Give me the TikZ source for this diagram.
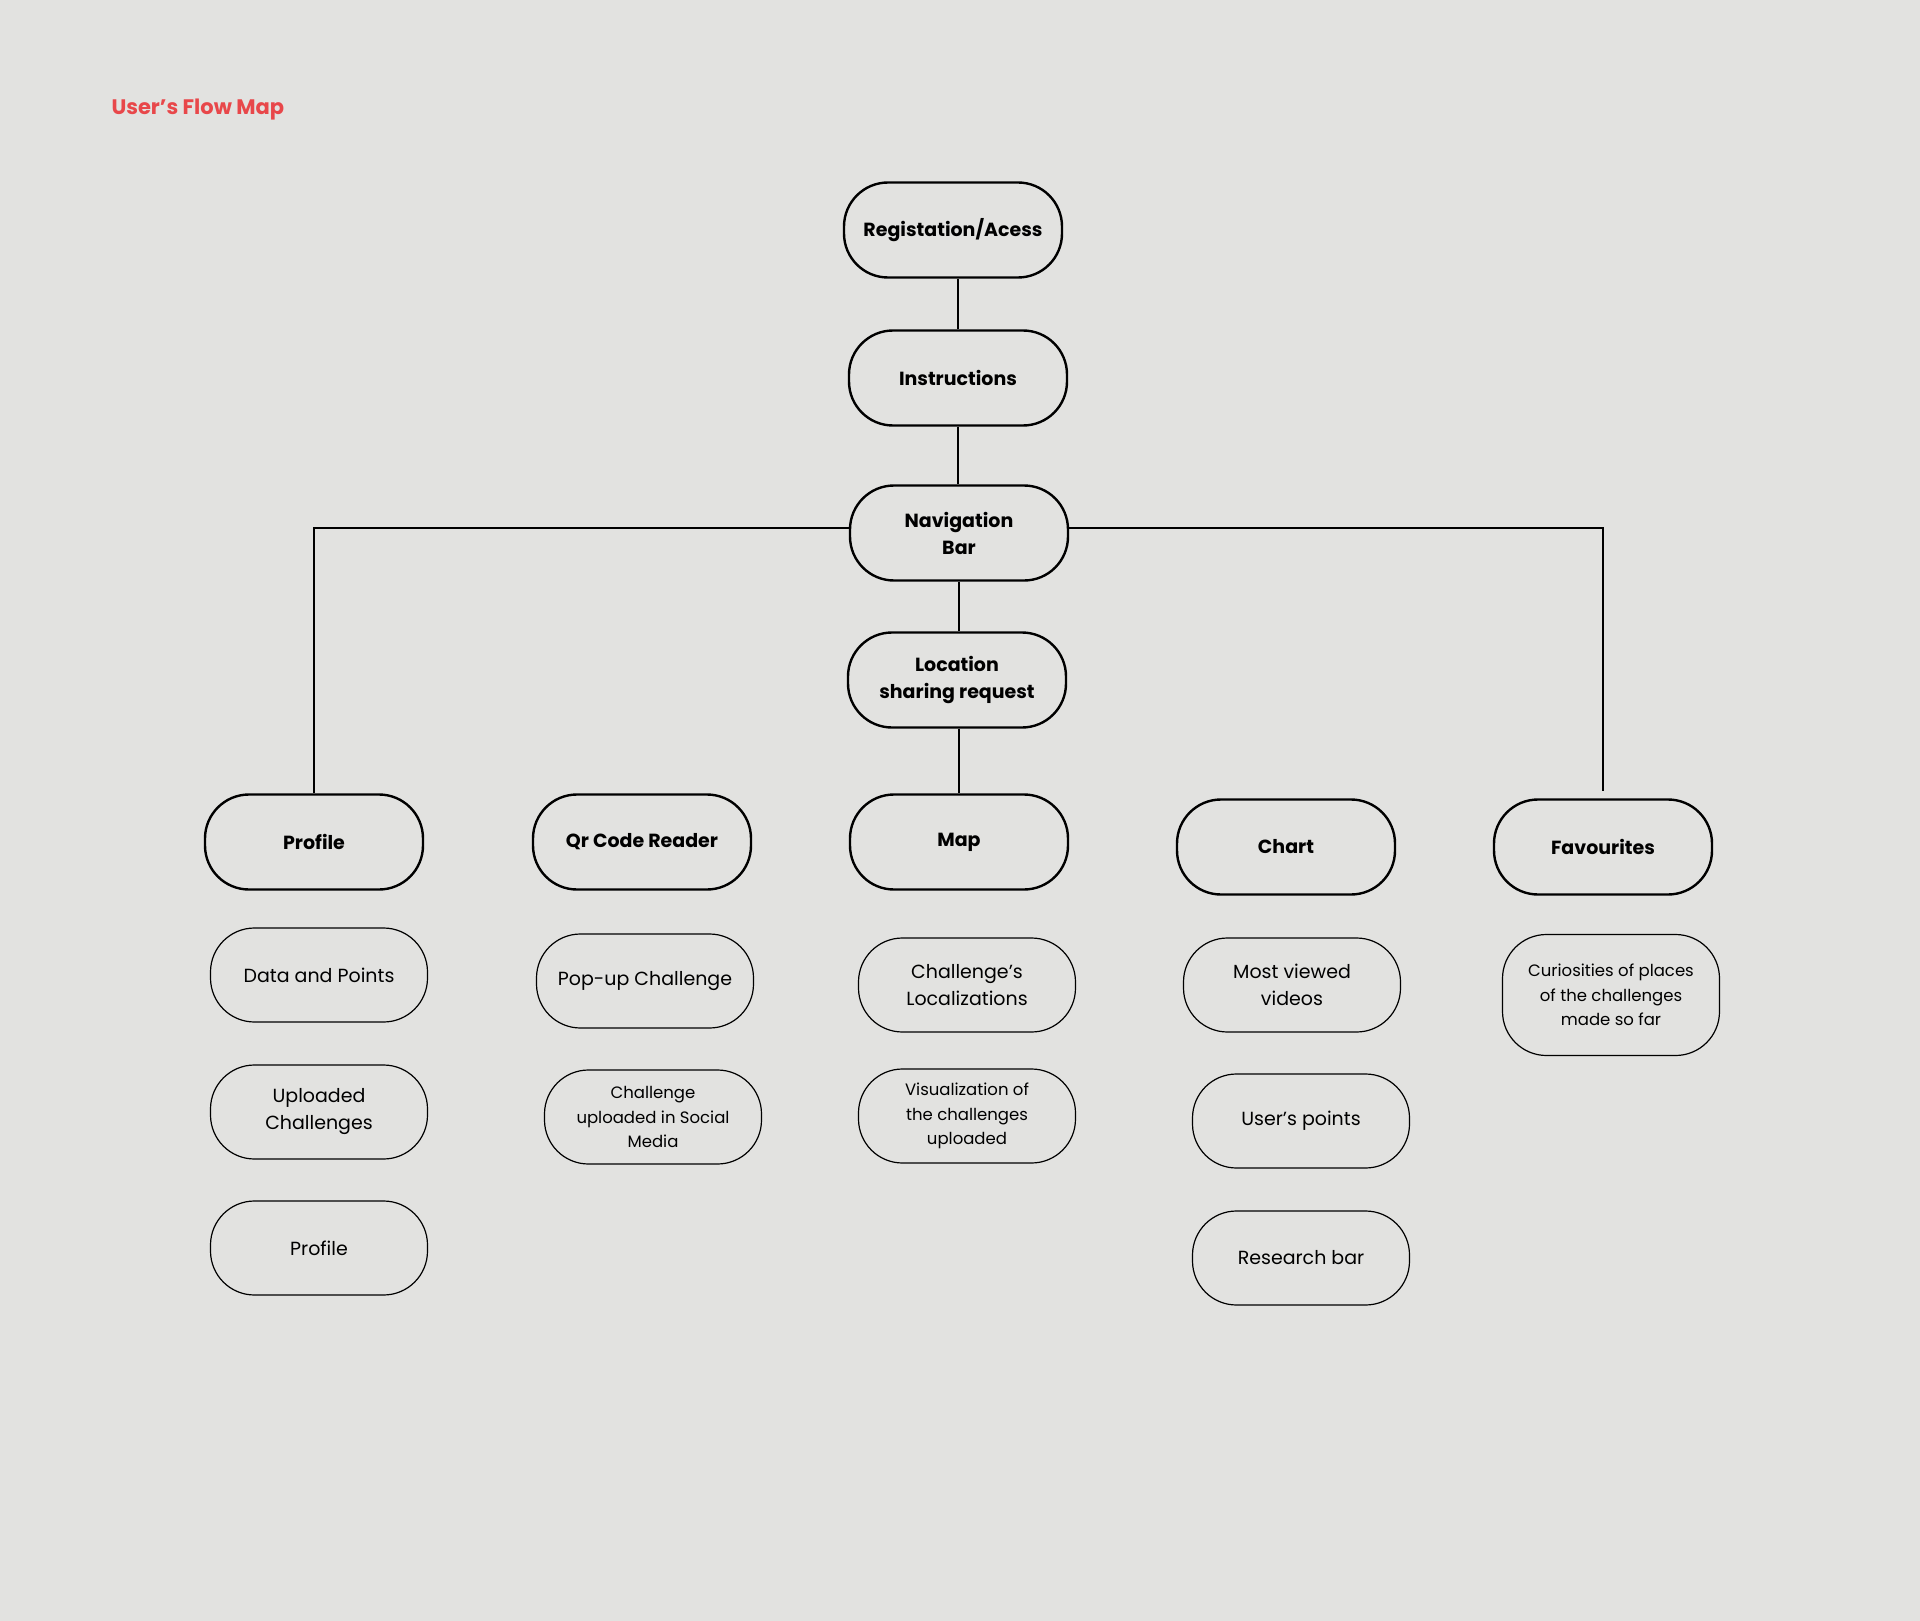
\documentclass[tikz,border=0pt]{standalone}
\usepackage{fontspec}
\setmainfont{Poppins}
\usepackage{tikz}
\usetikzlibrary{positioning,calc}

\definecolor{bggray}{HTML}{E2E2E0}
\definecolor{titlered}{HTML}{E8474A}

\tikzset{
	mainbox/.style={draw=black, line width=2.4pt, rounded corners=44pt, minimum width=218pt, minimum height=95pt, align=center, font=\fontsize{19}{27}\selectfont\bfseries, inner sep=0pt},
	subbox/.style={draw=black, line width=1.2pt, rounded corners=44pt, minimum width=217pt, minimum height=94pt, align=center, font=\fontsize{19}{27}\selectfont, inner sep=0pt},
	smalltext/.style={font=\fontsize{16.5}{24.5}\selectfont},
	link/.style={draw=black, line width=2.4pt}
}

\begin{document}
\begin{tikzpicture}[x=1pt, y=-1pt]

	\fill[bggray] (0,0) rectangle (1920,1621);
	\useasboundingbox (0,0) rectangle (1920,1621);

	\node[anchor=west, text=titlered, font=\fontsize{21}{25}\selectfont\bfseries](title) at (108,110) {User’s Flow Map};

	% obere Kette
	\node[mainbox](reg) at (953,230) {Registation/Acess};
	\node[mainbox](ins) at (958,378) {Instructions};
	\node[mainbox](nav) at (959,533) {Navigation\\Bar};
	\node[mainbox](loc) at (957,680) {Location\\sharing request};

	% Hauptbereiche
	\node[mainbox](prof) at (314,842) {Profile};
	\node[mainbox](qr) at (642,842) {Qr Code Reader};
	\node[mainbox](map) at (959,842) {Map};
	\node[mainbox](chart) at (1286,847) {Chart};
	\node[mainbox](fav) at (1603,847) {Favourites};

	% Unterpunkte
	\node[subbox](prof_a) at (319,975) {Data and Points};
	\node[subbox](prof_b) at (319,1112) {Uploaded\\Challenges};
	\node[subbox](prof_c) at (319,1248) {Profile};

	\node[subbox](qr_a) at (645,981) {Pop-up Challenge};
	\node[subbox, smalltext](qr_b) at (653,1117) {Challenge\\uploaded in Social\\Media};

	\node[subbox](map_a) at (967,985) {Challenge’s\\Localizations};
	\node[subbox, smalltext](map_b) at (967,1116) {Visualization of\\the challenges\\uploaded};

	\node[subbox](chart_a) at (1292,985) {Most viewed\\videos};
	\node[subbox](chart_b) at (1301,1121) {User’s points};
	\node[subbox](chart_c) at (1301,1258) {Research bar};

	\node[subbox, smalltext, minimum height=121pt](fav_a) at (1611,995) {Curiosities of places\\of the challenges\\made so far};

	% vertikale Linien
	\draw[link] (ins.north) -- (ins.north |- reg.south);
	\draw[link] (ins.south) -- (ins.south |- nav.north);
	\draw[link] (nav.south) -- (nav.south |- loc.north);
	\draw[link] (loc.south -| map.north) -- (map.north);

	% horizontale Linien
	\draw[link, line width=2pt] ($(nav.west)+(0,-5)$) -| (prof.north);
	\draw[link, line width=2pt, shorten >=7pt] ($(nav.east)+(0,-5)$) -| (fav.north);

\end{tikzpicture}
\end{document}
